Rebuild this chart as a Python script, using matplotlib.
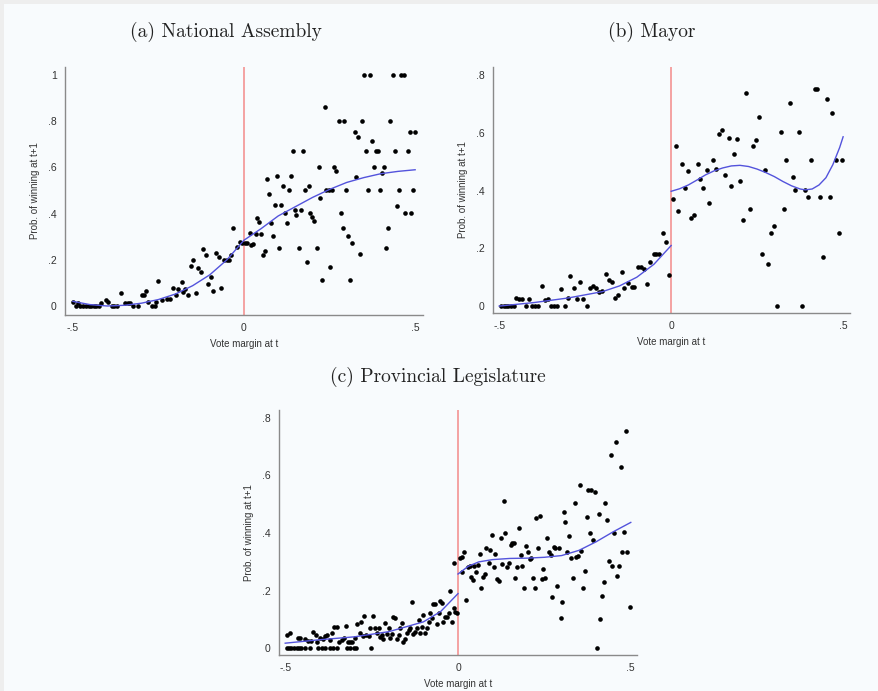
import numpy as np
import matplotlib
matplotlib.use("Agg")
import matplotlib.pyplot as plt
from matplotlib.patches import Rectangle

# ---- (a) National Assembly ----
a_x = [-0.499, -0.491, -0.484, -0.478, -0.470, -0.462, -0.454, -0.446, -0.439, -0.431, -0.423,
       -0.418, -0.404, -0.397, -0.387, -0.379, -0.371, -0.360, -0.348, -0.340, -0.332, -0.324,
       -0.309, -0.299, -0.292, -0.287, -0.280, -0.270, -0.260, -0.257, -0.250, -0.241, -0.226,
       -0.216, -0.207, -0.199, -0.192, -0.182, -0.177, -0.171, -0.163, -0.156, -0.148, -0.141,
       -0.134, -0.127, -0.121, -0.112, -0.104, -0.097, -0.090, -0.082, -0.074, -0.068, -0.058,
       -0.051, -0.043, -0.039, -0.031, -0.021, -0.012, -0.007,
       0.002, 0.009, 0.017, 0.021, 0.026, 0.034, 0.038, 0.044, 0.049, 0.056, 0.061, 0.067, 0.073,
       0.079, 0.085, 0.090, 0.096, 0.102, 0.107, 0.114, 0.119, 0.126, 0.132, 0.138, 0.143, 0.148,
       0.153, 0.160, 0.166, 0.171, 0.177, 0.184, 0.189, 0.194, 0.200, 0.205, 0.212, 0.218, 0.223,
       0.229, 0.236, 0.241, 0.247, 0.252, 0.258, 0.263, 0.270, 0.277, 0.282, 0.288, 0.292, 0.298,
       0.304, 0.311, 0.317, 0.323, 0.328, 0.333, 0.339, 0.345, 0.350, 0.356, 0.362, 0.367, 0.374,
       0.380, 0.385, 0.391, 0.397, 0.404, 0.408, 0.414, 0.421, 0.427, 0.436, 0.442, 0.448, 0.454,
       0.459, 0.467, 0.471, 0.480, 0.484, 0.489, 0.494, 0.501]
a_y = [0.019, 0.0, 0.014, 0.0, 0.0, 0.0, 0.0, 0.0, 0.0, 0.0, 0.0,
       0.012, 0.026, 0.016, 0.0, 0.0, 0.0, 0.058, 0.014, 0.014, 0.014, 0.0,
       0.0, 0.048, 0.048, 0.065, 0.019, 0.0, 0.0, 0.019, 0.110, 0.026, 0.029,
       0.029, 0.076, 0.048, 0.072, 0.105, 0.059, 0.072, 0.048, 0.173, 0.199, 0.055,
       0.166, 0.149, 0.245, 0.221, 0.095, 0.124, 0.065, 0.231, 0.214, 0.079, 0.199,
       0.199, 0.199, 0.221, 0.336, 0.257, 0.278, 0.274,
       0.271, 0.274, 0.317, 0.264, 0.267, 0.312, 0.380, 0.365, 0.312, 0.221, 0.238, 0.550, 0.485,
       0.361, 0.303, 0.437, 0.563, 0.253, 0.437, 0.519, 0.401, 0.358, 0.502, 0.563, 0.671, 0.416,
       0.394, 0.253, 0.416, 0.671, 0.502, 0.189, 0.521, 0.401, 0.387, 0.368, 0.253, 0.603, 0.469,
       0.113, 0.863, 0.502, 0.502, 0.167, 0.502, 0.603, 0.586, 0.802, 0.401, 0.336, 0.802, 0.502,
       0.303, 0.113, 0.274, 0.755, 0.557, 0.730, 0.225, 0.802, 1.0, 0.671, 0.502, 1.0, 0.716,
       0.603, 0.671, 0.671, 0.502, 0.574, 0.603, 0.253, 0.336, 0.802, 1.0, 0.671, 0.433, 0.502,
       1.0, 1.0, 0.401, 0.671, 0.755, 0.401, 0.502, 0.755]
a_fit_x = [-0.5, -0.45, -0.4, -0.35, -0.3, -0.25, -0.2, -0.15, -0.1, -0.05, 0.0,
           0.05, 0.1, 0.15, 0.2, 0.25, 0.3, 0.35, 0.4, 0.45, 0.5]
a_fit_y = [0.02, 0.006, 0.0, 0.003, 0.012, 0.028, 0.052, 0.088, 0.135, 0.2, 0.285,
           0.335, 0.39, 0.43, 0.47, 0.505, 0.535, 0.556, 0.573, 0.583, 0.59]

# ---- (b) Mayor ----
b_x = [-0.495, -0.487, -0.481, -0.473, -0.465, -0.458, -0.451, -0.442, -0.434, -0.422, -0.413,
       -0.405, -0.397, -0.388, -0.376, -0.366, -0.357, -0.349, -0.341, -0.332, -0.320, -0.310,
       -0.300, -0.293, -0.283, -0.273, -0.265, -0.255, -0.245, -0.235, -0.228, -0.219, -0.209,
       -0.202, -0.190, -0.182, -0.172, -0.163, -0.155, -0.143, -0.136, -0.126, -0.114, -0.107,
       -0.097, -0.088, -0.080, -0.070, -0.061, -0.051, -0.044, -0.035, -0.025, -0.016, -0.006,
       0.004, 0.014, 0.019, 0.031, 0.041, 0.048, 0.058, 0.065, 0.077, 0.084, 0.094, 0.104, 0.111,
       0.121, 0.130, 0.139, 0.147, 0.157, 0.167, 0.173, 0.183, 0.192, 0.201, 0.210, 0.219, 0.228,
       0.237, 0.246, 0.255, 0.264, 0.273, 0.281, 0.291, 0.299, 0.308, 0.318, 0.327, 0.334, 0.345,
       0.353, 0.361, 0.371, 0.380, 0.389, 0.398, 0.408, 0.417, 0.425, 0.434, 0.442, 0.452, 0.461,
       0.469, 0.479, 0.487, 0.497]
b_y = [0.0, 0.0, 0.0, 0.0, 0.0, 0.0, 0.029, 0.024, 0.024, 0.0, 0.024,
       0.0, 0.0, 0.0, 0.070, 0.021, 0.024, 0.0, 0.0, 0.0, 0.059, 0.0,
       0.027, 0.105, 0.061, 0.024, 0.084, 0.023, 0.0, 0.061, 0.070, 0.061, 0.050,
       0.053, 0.111, 0.090, 0.084, 0.029, 0.040, 0.117, 0.061, 0.079, 0.067, 0.067,
       0.134, 0.136, 0.127, 0.076, 0.154, 0.182, 0.182, 0.180, 0.254, 0.223, 0.107,
       0.373, 0.555, 0.330, 0.492, 0.410, 0.468, 0.306, 0.315, 0.491, 0.442, 0.410, 0.471, 0.358,
       0.506, 0.477, 0.595, 0.610, 0.454, 0.583, 0.416, 0.527, 0.581, 0.433, 0.298, 0.740, 0.338,
       0.554, 0.575, 0.654, 0.181, 0.471, 0.147, 0.254, 0.278, 0.0, 0.604, 0.338, 0.506, 0.704,
       0.448, 0.404, 0.604, 0.0, 0.404, 0.379, 0.506, 0.754, 0.754, 0.379, 0.171, 0.719, 0.379,
       0.671, 0.506, 0.254, 0.506]
b_fit_left_x = [-0.5, -0.4, -0.3, -0.2, -0.15, -0.1, -0.05, 0.0]
b_fit_left_y = [0.0, 0.012, 0.028, 0.05, 0.07, 0.1, 0.145, 0.21]
b_fit_right_x = [0.0, 0.025, 0.05, 0.075, 0.1, 0.125, 0.15, 0.175, 0.2, 0.225, 0.25, 0.275,
                 0.3, 0.325, 0.35, 0.375, 0.39, 0.41, 0.43, 0.45, 0.47, 0.49, 0.5]
b_fit_right_y = [0.398, 0.407, 0.42, 0.437, 0.455, 0.469, 0.479, 0.486, 0.488, 0.484, 0.475,
                 0.463, 0.449, 0.432, 0.417, 0.406, 0.403, 0.406, 0.42, 0.445, 0.49, 0.55, 0.587]

# ---- (c) Provincial Legislature ----
c_x = [-0.496, -0.489, -0.482, -0.475, -0.467, -0.460, -0.453, -0.443, -0.429, -0.404, -0.394,
       -0.385, -0.370, -0.361, -0.351, -0.322, -0.312, -0.302, -0.295, -0.252,
       -0.496, -0.486, -0.462, -0.456, -0.443, -0.433, -0.426, -0.419, -0.411, -0.407, -0.399,
       -0.392, -0.385, -0.378, -0.370, -0.364, -0.359, -0.351, -0.344, -0.337, -0.330, -0.324,
       -0.319, -0.312, -0.306, -0.298, -0.293, -0.285, -0.281, -0.276, -0.271, -0.266, -0.259,
       -0.254, -0.245, -0.240, -0.235, -0.230, -0.225, -0.221, -0.216, -0.211, -0.206, -0.201,
       -0.196, -0.191, -0.187, -0.182, -0.177, -0.172, -0.167, -0.162, -0.158, -0.153, -0.148,
       -0.143, -0.138, -0.133, -0.129, -0.124, -0.119, -0.114, -0.109, -0.104, -0.100, -0.095,
       -0.090, -0.085, -0.080, -0.075, -0.071, -0.066, -0.061, -0.056, -0.051, -0.046, -0.042,
       -0.037, -0.032, -0.027, -0.022, -0.017, -0.013, -0.008, -0.003, -0.011,
       0.005, 0.012, 0.018, 0.012, 0.024, 0.028, 0.034, 0.038, 0.044, 0.047, 0.053, 0.057, 0.063,
       0.068, 0.073, 0.077, 0.082, 0.089, 0.094, 0.099, 0.103, 0.108, 0.113, 0.120, 0.123, 0.128,
       0.132, 0.137, 0.142, 0.147, 0.152, 0.157, 0.162, 0.166, 0.171, 0.176, 0.181, 0.186, 0.192,
       0.198, 0.202, 0.208, 0.212, 0.218, 0.222, 0.227, 0.232, 0.237, 0.242, 0.247, 0.252, 0.258,
       0.263, 0.268, 0.273, 0.278, 0.282, 0.287, 0.292, 0.297, 0.302, 0.307, 0.311, 0.316, 0.321,
       0.326, 0.332, 0.338, 0.342, 0.347, 0.352, 0.357, 0.362, 0.367, 0.372, 0.376, 0.382, 0.386,
       0.392, 0.397, 0.401, 0.407, 0.412, 0.417, 0.422, 0.426, 0.431, 0.437, 0.442, 0.447, 0.452,
       0.456, 0.461, 0.466, 0.471, 0.476, 0.481, 0.486, 0.490, 0.498]
c_y = [0.0, 0.0, 0.0, 0.0, 0.0, 0.0, 0.0, 0.0, 0.0, 0.0, 0.0,
       0.0, 0.0, 0.0, 0.0, 0.0, 0.0, 0.0, 0.0, 0.0,
       0.046, 0.055, 0.035, 0.037, 0.031, 0.025, 0.025, 0.058, 0.046, 0.021, 0.037,
       0.031, 0.044, 0.046, 0.029, 0.055, 0.073, 0.073, 0.023, 0.029, 0.037, 0.077,
       0.021, 0.021, 0.021, 0.037, 0.084, 0.055, 0.092, 0.044, 0.113, 0.046, 0.044,
       0.069, 0.113, 0.072, 0.055, 0.072, 0.040, 0.046, 0.032, 0.087, 0.050, 0.069,
       0.037, 0.049, 0.110, 0.104, 0.032, 0.046, 0.072, 0.087, 0.021, 0.032, 0.052,
       0.064, 0.069, 0.160, 0.049, 0.058, 0.069, 0.098, 0.055, 0.075, 0.116, 0.055,
       0.069, 0.092, 0.121, 0.104, 0.153, 0.153, 0.083, 0.121, 0.164, 0.156, 0.092,
       0.110, 0.110, 0.121, 0.200, 0.090, 0.141, 0.127, 0.121, 0.297,
       0.312, 0.318, 0.335, 0.266, 0.168, 0.283, 0.287, 0.249, 0.237, 0.287, 0.264, 0.289, 0.329,
       0.208, 0.249, 0.257, 0.349, 0.297, 0.341, 0.393, 0.281, 0.329, 0.239, 0.234, 0.382, 0.291,
       0.511, 0.402, 0.281, 0.295, 0.358, 0.366, 0.364, 0.243, 0.283, 0.416, 0.324, 0.286, 0.210,
       0.355, 0.335, 0.310, 0.312, 0.243, 0.210, 0.451, 0.347, 0.460, 0.239, 0.274, 0.243, 0.384,
       0.335, 0.324, 0.179, 0.350, 0.349, 0.217, 0.347, 0.106, 0.160, 0.472, 0.439, 0.335, 0.391,
       0.312, 0.243, 0.503, 0.318, 0.321, 0.566, 0.338, 0.210, 0.268, 0.457, 0.549, 0.402, 0.549,
       0.376, 0.541, 0.0, 0.465, 0.101, 0.182, 0.231, 0.503, 0.445, 0.303, 0.671, 0.287, 0.402,
       0.717, 0.251, 0.287, 0.628, 0.335, 0.405, 0.754, 0.335, 0.145]
c_fit_left_x = [-0.5, -0.4, -0.3, -0.2, -0.15, -0.1, -0.05, 0.0]
c_fit_left_y = [0.018, 0.03, 0.04, 0.058, 0.075, 0.092, 0.128, 0.19]
c_fit_right_x = [0.0, 0.03, 0.06, 0.1, 0.15, 0.2, 0.25, 0.3, 0.35, 0.4, 0.45, 0.5]
c_fit_right_y = [0.258, 0.285, 0.3, 0.308, 0.312, 0.313, 0.316, 0.322, 0.34, 0.37, 0.405, 0.437]

x_ticks = [-0.5, 0, 0.5]
x_labels = ["-.5", "0", ".5"]

W, H = 879, 691
BG = "#f8fbfd"
FIT = "#5353dc"
CUT = "#f38a8a"
AXC = "#8a8a8a"
SANS = ["Liberation Sans", "DejaVu Sans"]
SERIF = ["cmr10", "Liberation Serif", "DejaVu Serif"]

fig = plt.figure(figsize=(W / 100, H / 100), dpi=100)
fig.patch.set_facecolor("#eeeeee")
fig.patches.append(Rectangle((4 / W, 0), 1, 1 - 4 / H, transform=fig.transFigure,
                             facecolor=BG, edgecolor="none", zorder=-10))


def make_panel(box, xlim, ylim, yticks, ylabels):
    l, r, t, b = box
    ax = fig.add_axes([l / W, 1 - b / H, (r - l) / W, (b - t) / H])
    ax.set_facecolor("none")
    for s in ["top", "right"]:
        ax.spines[s].set_visible(False)
    for s in ["left", "bottom"]:
        ax.spines[s].set_color(AXC)
        ax.spines[s].set_linewidth(1.0)
    ax.set_xlim(xlim)
    ax.set_ylim(ylim)
    ax.set_xticks(x_ticks)
    ax.set_xticklabels(x_labels, family=SANS, fontsize=7.5, color="#333333")
    ax.set_yticks(yticks)
    ax.set_yticklabels(ylabels, family=SANS, fontsize=7.5, color="#333333")
    ax.tick_params(length=0, pad=6)
    ax.set_xlabel("Vote margin at t", family=SANS, fontsize=7, color="#333333", labelpad=4)
    ax.set_ylabel("Prob. of winning at t+1", family=SANS, fontsize=7, color="#333333", labelpad=6)
    ax.axvline(0, color=CUT, lw=1.1, zorder=1)
    return ax


ax_a = make_panel((65, 423, 67, 315), (-0.523, 0.523), (-0.039, 1.035),
                  [0, 0.2, 0.4, 0.6, 0.8, 1.0], ["0", ".2", ".4", ".6", ".8", "1"])
ax_a.scatter(a_x, a_y, s=11, color="black", zorder=2, linewidths=0)
ax_a.plot(a_fit_x, a_fit_y, color=FIT, lw=1.0, zorder=3)

yt8 = [0, 0.2, 0.4, 0.6, 0.8]
yl8 = ["0", ".2", ".4", ".6", ".8"]

ax_b = make_panel((493, 850, 67, 313), (-0.518, 0.52), (-0.024, 0.829), yt8, yl8)
ax_b.scatter(b_x, b_y, s=11, color="black", zorder=2, linewidths=0)
ax_b.plot(b_fit_left_x, b_fit_left_y, color=FIT, lw=1.0, zorder=3)
ax_b.plot(b_fit_right_x, b_fit_right_y, color=FIT, lw=1.0, zorder=3)

ax_c = make_panel((279, 637, 410, 655), (-0.518, 0.518), (-0.023, 0.827), yt8, yl8)
ax_c.scatter(c_x, c_y, s=11, color="black", zorder=2, linewidths=0)
ax_c.plot(c_fit_left_x, c_fit_left_y, color=FIT, lw=1.0, zorder=3)
ax_c.plot(c_fit_right_x, c_fit_right_y, color=FIT, lw=1.0, zorder=3)

fig.text(226 / W, 1 - 32 / H, "(a) National Assembly", family=SERIF, fontsize=14,
         color="#222222", ha="center", va="center")
fig.text(652 / W, 1 - 32 / H, "(b) Mayor", family=SERIF, fontsize=14,
         color="#222222", ha="center", va="center")
fig.text(438 / W, 1 - 377 / H, "(c) Provincial Legislature", family=SERIF, fontsize=14,
         color="#222222", ha="center", va="center")

fig.savefig("out.png", dpi=100, facecolor=fig.get_facecolor())
